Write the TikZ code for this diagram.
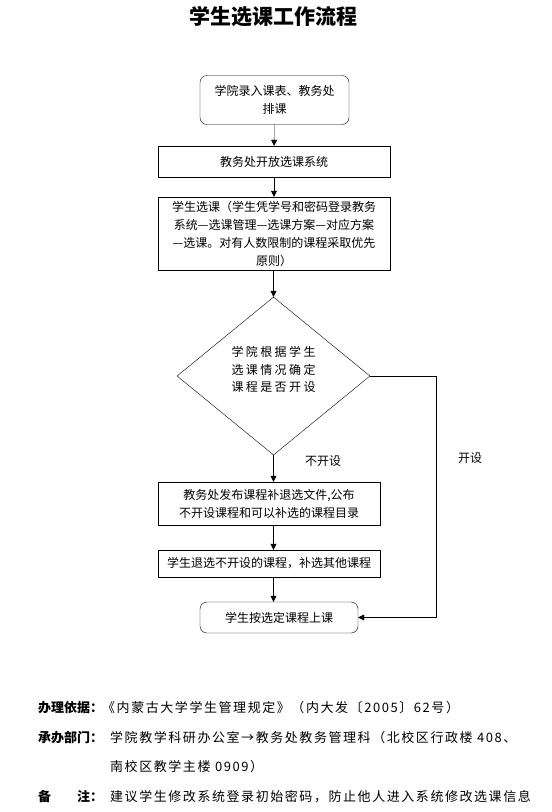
\documentclass[tikz,border=0pt]{standalone}
\usepackage{fontspec}
\setmainfont{Noto Sans CJK SC}
\usetikzlibrary{shapes.geometric,arrows.meta}

\begin{document}
\begin{tikzpicture}[x=1pt,y=-1pt,>={Triangle[length=6pt,width=6pt]},
  box/.style={draw,inner sep=2pt,align=center,font=\fontsize{12}{18}\selectfont},
  rbox/.style={box,rounded corners=7pt},
  decision/.style={draw,shape=diamond,inner sep=0pt,minimum width=193pt,minimum height=158pt,
    align=left,font=\fontsize{12}{17.5}\selectfont\addfontfeature{LetterSpace=20}},
  lbl/.style={font=\fontsize{12}{14}\selectfont},
  note/.style={anchor=base west,inner sep=0pt,font=\fontsize{13}{15}\selectfont\addfontfeature{LetterSpace=12}},
  notehead/.style={anchor=base west,inner sep=0pt,font=\fontsize{13}{15}\selectfont\bfseries}]
  \useasboundingbox (0,0) rectangle (552,812);
  \node[font=\fontsize{21}{24}\selectfont\bfseries] (title) at (273,17) {学生选课工作流程};
  % flow
  \node[rbox,minimum width=149pt,minimum height=49pt] (enter) at (274.5,100) {学院录入课表、教务处\\排课};
  \node[box,minimum width=232pt,minimum height=31pt] (open) at (274,161.5) {教务处开放选课系统};
  \node[box,minimum width=232pt,minimum height=73pt] (select) at (274,233.5)
    {学生选课（学生凭学号和密码登录教务\\系统—选课管理—选课方案—对应方案\\—选课。对有人数限制的课程采取优先\\原则）};
  \node[decision] (decide) at (273.5,376) {学院根据学生\\选课情况确定\\课程是否开设\\[-4pt]};
  \node[box,minimum width=222pt,minimum height=43pt] (publish) at (269,503.5)
    {教务处发布课程补退选文件,公布\\不开设课程和可以补选的课程目录};
  \node[box,minimum width=222pt,minimum height=27pt] (drop) at (269,563.5) {学生退选不开设的课程，补选其他课程};
  \node[rbox,minimum width=158pt,minimum height=31pt] (attend) at (279,617.5) {学生按选定课程上课};
  \coordinate (turn) at (436,617.5);
  % connectors
  \draw[->] (enter) -- (open);
  \draw[->] (open) -- (select);
  \draw[->] (select.south -| decide) -- (decide.north);
  \draw[->] (decide.south) -- (decide.south |- publish.north);
  \draw[->] (decide.south |- publish.south) -- (decide.south |- drop.north);
  \draw[->] (decide.south |- drop.south) -- (decide.south |- attend.north);
  \draw[->] (decide.east) -| (turn) -- (attend.east);
  \node[lbl] (no) at (323,461) {不开设};
  \node[lbl] (yes) at (470,458) {开设};
  % notes
  \node[notehead] (basis) at (38,712) {办理依据：};
  \node[note] (basistxt) at (102,712) {《内蒙古大学学生管理规定》（内大发〔2005〕62号）};
  \node[notehead] (dept) at (38,742) {承办部门：};
  \node[note] (depttxt) at (110,742) {学院教学科研办公室→教务处教务管理科（北校区行政楼 408、};
  \node[note] (depttxt2) at (110,771) {南校区教学主楼 0909）};
  \node[notehead] (remark) at (38,801) {备\hspace{26pt}注：};
  \node[note] (remarktxt) at (110,801) {建议学生修改系统登录初始密码，防止他人进入系统修改选课信息};
\end{tikzpicture}
\end{document}
